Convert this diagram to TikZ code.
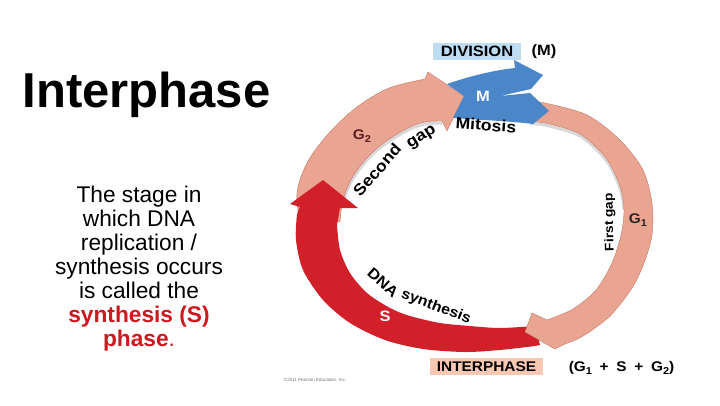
\documentclass[tikz,border=0pt]{standalone}
\usepackage{fontspec}
\setmainfont{Liberation Sans}
\newfontfamily\figfont[FakeStretch=1.1]{Liberation Sans}
\definecolor{pinkband}{RGB}{234,164,146}
\definecolor{pinkedge}{RGB}{196,120,104}
\definecolor{redband}{RGB}{210,32,42}
\definecolor{blueband}{RGB}{74,134,200}
\definecolor{divbox}{RGB}{190,220,242}
\definecolor{intbox}{RGB}{247,200,180}
\definecolor{redtext}{RGB}{204,24,30}
\definecolor{gtwo}{RGB}{90,30,30}
\newcommand\lblsub[1]{\raisebox{-0.35ex}{\fontsize{10}{10}\selectfont #1}}
\begin{document}
\begin{tikzpicture}[x=1pt,y=-1pt,
  figlbl/.style={inner sep=0pt, font=\figfont\bfseries\fontsize{15}{15}\selectfont},
  bodyline/.style={anchor=base, inner sep=0pt, font=\fontsize{22.7}{24}\selectfont},
  pinkshape/.style={fill=pinkband, draw=pinkedge, line width=0.4pt},
  shadowline/.style={draw=black!30, line width=3pt, opacity=0.5}]
\useasboundingbox (0,0) rectangle (720,405);
\fill[white] (0,0) rectangle (720,405);

% left text
\node[anchor=base, inner sep=0pt, font=\fontsize{49}{55}\selectfont\bfseries] (title) at (146.5,107) {Interphase};
\node[bodyline] (l1) at (139,202) {The stage in};
\node[bodyline] (l2) at (139,226) {which DNA};
\node[bodyline] (l3) at (139,250) {replication /};
\node[bodyline] (l4) at (139,274) {synthesis occurs};
\node[bodyline] (l5) at (139,298) {is called the};
\node[bodyline, text=redtext] (l6) at (139,322) {\bfseries synthesis (S)};
\node[bodyline, text=redtext] (l7) at (139,346) {\textbf{phase}.};

% inner shadows
\path[shadowline] plot[smooth] coordinates {(442,123) (425,124) (408,130) (385,144) (367,160) (352,180) (343,202)};
\path[shadowline] plot[smooth] coordinates {(530,124) (545,125) (580,136) (606,160) (620,188) (624,210)};

% G2 band
\path[pinkshape] plot[smooth, tension=0.6] coordinates {(300,222) (297,193) (306,165) (323,140) (345,117) (367,100) (392,87) (425,79)}
  -- (428,72) -- (464,96) -- (447,131)
  -- plot[smooth, tension=0.6] coordinates {(442,121) (425,122) (408,128) (385,142) (367,158) (352,178) (343,200) (340,222)} -- cycle;

% S band (red)
\fill[redband] (290,204) -- (323,180) -- (358,208) -- (340,208)
  -- plot[smooth] coordinates {(337,225) (340,250) (350,273) (367,293) (390,308) (410,316) (440,323) (470,326) (500,328) (535,326)}
  -- (540,345)
  -- plot[smooth] coordinates {(535,346) (500,350) (465,352) (423,349) (385,340) (350,323) (323,300) (303,270) (296,240) (297,215) (300,207)} -- cycle;

% G1 band
\path[pinkshape] plot[smooth] coordinates {(526,101) (545,103) (587,115) (620,140) (643,170) (652,203) (652,235) (644,263) (632,288) (610,316) (583,336) (565,344)}
  -- (555,349) -- (525,332) -- (532,313)
  -- plot[smooth] coordinates {(547,320) (573,309) (596,290) (612,263) (621,235) (624,210) (620,186) (606,158) (580,134) (545,123) (526,122)} -- cycle;

% M arrow (blue)
\fill[blueband] (447,84) .. controls (470,76) and (495,70) .. (515,68) -- (514,60) -- (543,75) -- (531,89) -- (500,96)
  -- (530,93) -- (549,111) -- (533,124) .. controls (510,121) and (480,120) .. (453,118) -- (464,96) -- cycle;

% labels in the cycle
\node[figlbl, fill=divbox, minimum width=88pt, minimum height=17pt] (div) at (477,51) {DIVISION};
\node[figlbl] (mparen) at (544,52) {(M)};
\node[figlbl, text=white] (mlbl) at (483,96) {M};
\node[figlbl, font=\figfont\bfseries\fontsize{16}{16}\selectfont, rotate=-4] (mit) at (486,125) {Mitosis};
\node[figlbl, text=gtwo, font=\figfont\bfseries\fontsize{14}{14}\selectfont] (g2) at (362,136) {G\lblsub{2}};
\node[figlbl, text=black!85, font=\figfont\bfseries\fontsize{14}{14}\selectfont] (g1) at (638,220) {G\lblsub{1}};
\node[figlbl, text=white] (slbl) at (385,316) {S};
\node[figlbl, fill=intbox, minimum width=113pt, minimum height=17pt, font=\figfont\bfseries\fontsize{14}{14}\selectfont] (inter) at (486.5,366.5) {INTERPHASE};
\node[figlbl, font=\figfont\bfseries\fontsize{14}{14}\selectfont] (formula) at (621.5,368) {(G\lblsub{1}\hspace{0.55em}+\hspace{0.55em}S\hspace{0.55em}+\hspace{0.55em}G\lblsub{2})};
\node[inner sep=0pt, text=black!55, font=\fontsize{4.5}{5}\selectfont] (copy) at (315,380) {\textcopyright 2011 Pearson Education, Inc.};

% side labels
\node[figlbl, rotate=49, font=\figfont\bfseries\fontsize{16}{16}\selectfont] (second) at (377,170) {Second};
\node[figlbl, rotate=32, font=\figfont\bfseries\fontsize{16}{16}\selectfont] (gap) at (422,138) {gap};
\node[figlbl, anchor=base, rotate=91, font=\figfont\bfseries\fontsize{12.5}{12.5}\selectfont] (fgap) at (613,222) {First gap};
\node[figlbl, rotate=-42] (dna) at (383,283) {DNA};
\node[figlbl, rotate=-21, font=\figfont\bfseries\fontsize{14.5}{14.5}\selectfont] (synth) at (436,307) {synthesis};
\end{tikzpicture}
\end{document}
